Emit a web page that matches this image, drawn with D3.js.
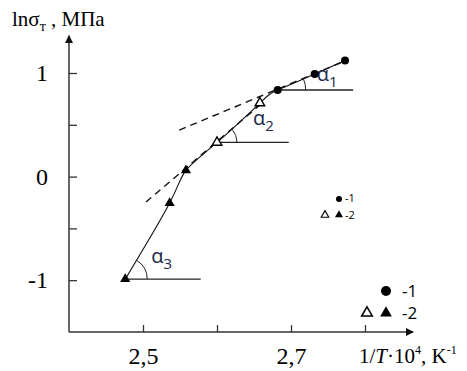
<!DOCTYPE html>
<html>
<head>
<meta charset="utf-8">
<script src="https://cdn.jsdelivr.net/npm/d3@7"></script>
<style>
  body { margin: 0; background: #fff; }
  svg { display: block; }
</style>
</head>
<body>
<script>
// series 1: filled circles, series 2: open + filled triangles
const circles1 = [[2.682, 0.836], [2.732, 0.99], [2.773, 1.12]];
const openTri2 = [[2.600, 0.33], [2.658, 0.71]];
const fillTri2 = [[2.476, -0.99], [2.536, -0.256], [2.558, 0.06]];

// tangent (dashed) segments and horizontals for the angles
const tangents = [
  [[2.549, 0.449], [2.773, 1.116]],
  [[2.504, -0.246], [2.661, 0.71]]
];
const angleBases = [
  {x0: 2.682, x1: 2.784, y: 0.836, name: "1"},
  {x0: 2.600, x1: 2.697, y: 0.33, name: "2"},
  {x0: 2.476, x1: 2.578, y: -0.99, name: "3"}
];

const xTicks = [2.5, 2.6, 2.7, 2.8];
const xLabels = [2.5, 2.7];
const yTicks = [-1, -0.5, 0, 0.5, 1];
const yLabels = [-1, 0, 1];

const width = 467, height = 371;

const x = d3.scaleLinear().domain([2.4, 2.9]).range([69, 439]);
const y = d3.scaleLinear().domain([-1.5, 1]).range([332, 73]);

const svg = d3.select("body").append("svg")
  .attr("width", width).attr("height", height);

const axisColor = "#333";
const serif = "'Liberation Serif', 'Times New Roman', serif";

// axes
const xAxis = d3.axisBottom(x).tickValues(xTicks).tickSize(-7).tickSizeOuter(0)
  .tickPadding(15)
  .tickFormat(d => xLabels.includes(d) ? d3.format(".1f")(d).replace(".", ",") : "");
const gx = svg.append("g").attr("transform", `translate(0,${y(-1.5)})`).call(xAxis);
gx.select(".domain").remove();

const yAxis = d3.axisLeft(y).tickValues(yTicks).tickSize(-8).tickSizeOuter(0)
  .tickPadding(21)
  .tickFormat(d => yLabels.includes(d) ? (d < 0 ? "-" + Math.abs(d) : d) : "");
const gy = svg.append("g").attr("transform", `translate(${x(2.4)},0)`).call(yAxis);
gy.select(".domain").remove();

svg.selectAll(".tick line").attr("stroke", axisColor).attr("stroke-width", 1.3);
svg.selectAll(".tick text").attr("font-family", serif).attr("font-size", 24).attr("fill", "#000");

// axis lines with arrows
svg.append("defs").append("marker")
  .attr("id", "arr").attr("viewBox", "0 0 10 10").attr("refX", 9).attr("refY", 5)
  .attr("markerWidth", 8).attr("markerHeight", 8).attr("orient", "auto")
  .attr("markerUnits", "userSpaceOnUse")
  .append("path").attr("d", "M0,0L10,5L0,10Z").attr("fill", "#111");

svg.append("path")
  .attr("d", `M${x(2.4)},${y(-1.5)}H${x(2.865)}`)
  .attr("stroke", axisColor).attr("stroke-width", 1.5).attr("marker-end", "url(#arr)");
svg.append("path")
  .attr("d", `M${x(2.4)},${y(-1.5)}V${y(1.36)}`)
  .attr("stroke", axisColor).attr("stroke-width", 1.5).attr("marker-end", "url(#arr)");

// axis titles
const t1 = svg.append("text").attr("x", 12).attr("y", 26)
  .attr("font-family", serif).attr("font-size", 21).attr("fill", "#000");
t1.append("tspan").text("lnσ");
t1.append("tspan").attr("font-size", 14).attr("dy", 5).text("т");
t1.append("tspan").attr("dy", -5).text(" , МПа");

const t2 = svg.append("text").attr("x", 359).attr("y", 363)
  .attr("font-family", serif).attr("font-size", 21).attr("fill", "#000");
t2.append("tspan").text("1/");
t2.append("tspan").attr("font-style", "italic").text("T");
t2.append("tspan").text("·10");
t2.append("tspan").attr("font-size", 12).attr("dy", -9).text("4");
t2.append("tspan").attr("dy", 9).text(", K");
t2.append("tspan").attr("font-size", 12).attr("dy", -9).text("-1");

// fitted curve through all points
const allPts = [...fillTri2, ...openTri2, ...circles1].sort((a, b) => a[0] - b[0]);
const line = d3.line().x(d => x(d[0])).y(d => y(d[1])).curve(d3.curveNatural);
svg.append("path").datum(allPts).attr("d", line)
  .attr("fill", "none").attr("stroke", "#111").attr("stroke-width", 1.1);

// tangents
const seg = d3.line().x(d => x(d[0])).y(d => y(d[1]));
svg.selectAll(".tan").data(tangents).join("path")
  .attr("d", seg).attr("fill", "none").attr("stroke", "#111")
  .attr("stroke-width", 1.4).attr("stroke-dasharray", "7,5");

// horizontals + angle arcs + labels
const tanSlopes = tangents.map(t => Math.atan2(-(y(t[1][1]) - y(t[0][1])), x(t[1][0]) - x(t[0][0])));
const ang3 = Math.atan2(-(y(fillTri2[1][1]) - y(fillTri2[0][1])), x(fillTri2[1][0]) - x(fillTri2[0][0]));
const angles = [tanSlopes[0], tanSlopes[1], ang3];
const radii = [28, 20, 22];
const labelOff = [[11, -9], [16, -17], [4, -16]];

angleBases.forEach((b, i) => {
  const cx = x(b.x0), cy = y(b.y);
  svg.append("line").attr("x1", cx).attr("x2", x(b.x1)).attr("y1", cy).attr("y2", cy)
    .attr("stroke", "#222").attr("stroke-width", 1.3);
  const r = radii[i], a = angles[i];
  svg.append("path")
    .attr("d", `M${cx + r},${cy}A${r},${r} 0 0 0 ${cx + r * Math.cos(a)},${cy - r * Math.sin(a)}`)
    .attr("fill", "none").attr("stroke", "#222").attr("stroke-width", 1);
  const lt = svg.append("text")
    .attr("x", cx + r + labelOff[i][0]).attr("y", cy + labelOff[i][1])
    .attr("font-family", "'Open Sans', sans-serif").attr("font-size", 20).attr("fill", "#1d2a4a");
  lt.append("tspan").text("α");
  lt.append("tspan").attr("font-size", 15).attr("dy", 6).text(b.name);
});

// markers
const tri = d3.symbol().type(d3.symbolTriangle);
svg.selectAll(".c1").data(circles1).join("circle")
  .attr("cx", d => x(d[0])).attr("cy", d => y(d[1])).attr("r", 4).attr("fill", "#000");
svg.selectAll(".t2f").data(fillTri2).join("path")
  .attr("d", tri.size(45)).attr("transform", d => `translate(${x(d[0])},${y(d[1])})`)
  .attr("fill", "#000");
svg.selectAll(".t2o").data(openTri2).join("path")
  .attr("d", tri.size(40)).attr("transform", d => `translate(${x(d[0])},${y(d[1])})`)
  .attr("fill", "#fff").attr("stroke", "#000").attr("stroke-width", 1.4);

// small legend
const sans = "'Open Sans', 'Noto Sans', sans-serif";
svg.append("circle").attr("cx", 339).attr("cy", 199).attr("r", 3).attr("fill", "#000");
svg.append("text").attr("x", 345).attr("y", 202).attr("font-family", sans).attr("font-size", 11).text("-1");
svg.append("path").attr("d", tri.size(25)).attr("transform", "translate(325,215)")
  .attr("fill", "#fff").attr("stroke", "#000").attr("stroke-width", 1.1);
svg.append("path").attr("d", tri.size(28)).attr("transform", "translate(339,215)").attr("fill", "#000");
svg.append("text").attr("x", 345).attr("y", 219).attr("font-family", sans).attr("font-size", 11).text("-2");

// big legend
svg.append("circle").attr("cx", 386).attr("cy", 291).attr("r", 5).attr("fill", "#000");
svg.append("text").attr("x", 402).attr("y", 297).attr("font-family", sans).attr("font-size", 17).text("-1");
svg.append("path").attr("d", tri.size(50)).attr("transform", "translate(367,313)")
  .attr("fill", "#fff").attr("stroke", "#000").attr("stroke-width", 1.5);
svg.append("path").attr("d", tri.size(60)).attr("transform", "translate(386,313)").attr("fill", "#000");
svg.append("text").attr("x", 402).attr("y", 319).attr("font-family", sans).attr("font-size", 17).text("-2");
</script>
</body>
</html>
